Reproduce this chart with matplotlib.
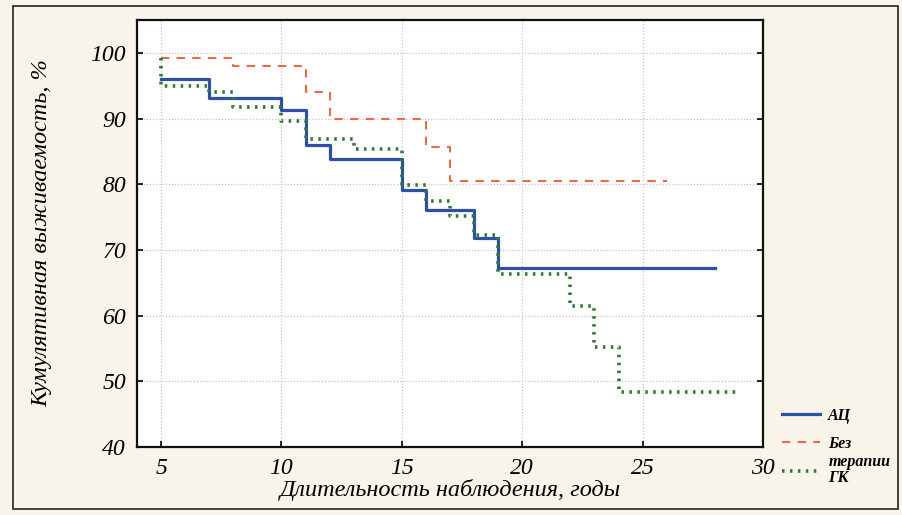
import matplotlib.pyplot as plt
from matplotlib.patches import Rectangle

# Kaplan-Meier style curves (years, cumulative survival %)
ac_x = [5, 7, 10, 11, 12, 15, 16, 18, 19, 28]
ac_y = [96, 93.1, 91.3, 85.9, 83.8, 79.1, 76.1, 71.8, 67.2, 67.2]

noth_x = [5, 8, 11, 12, 16, 17, 26]
noth_y = [99.2, 98.0, 94.0, 89.9, 85.6, 80.5, 80.5]

gk_x = [5, 5, 7, 8, 10, 11, 13, 15, 16, 17, 18, 19, 22, 23, 24, 29]
gk_y = [99.2, 95.0, 94.0, 91.8, 89.7, 86.9, 85.4, 79.9, 77.5, 75.1, 72.3, 66.3, 61.5, 55.2, 48.4, 48.4]

legend_labels = ['АЦ', 'Без', 'терапии\nГК']
xticks = [5, 10, 15, 20, 25, 30]
yticks = [40, 50, 60, 70, 80, 90, 100]

bg = '#f8f4ea'
serif = 'Liberation Serif'

fig = plt.figure(figsize=(9.03, 5.15), dpi=100, facecolor=bg)
ax = fig.add_axes([137/903, 68/515, 626/903, 427/515], facecolor='white')

l1, = ax.plot(ac_x, ac_y, drawstyle='steps-post', color='#2d4fa6', lw=2.3)
l2, = ax.plot(noth_x, noth_y, drawstyle='steps-post', color='#ea6a43', lw=1.5,
              linestyle=(0, (4, 3.5)))
l3, = ax.plot(gk_x, gk_y, drawstyle='steps-post', color='#2f7a33', lw=2.6,
              linestyle=(0, (0.7, 1.5)))

ax.set_xlim(4, 30)
ax.set_ylim(40, 105)
ax.set_xticks(xticks)
ax.set_yticks(yticks)
ax.grid(True, color='#c4c4c4', linestyle=(0, (1, 1.5)), lw=0.9)
ax.tick_params(direction='in', length=4, width=1.2, right=True, labelsize=17, pad=8)
for lab in ax.get_xticklabels() + ax.get_yticklabels():
    lab.set_fontfamily(serif)
    lab.set_fontstyle('italic')
for s in ax.spines.values():
    s.set_linewidth(1.6)
    s.set_color('#111111')

ax.set_xlabel('Длительность наблюдения, годы', fontsize=17.5, fontfamily=serif,
              fontstyle='italic', labelpad=0)
ax.set_ylabel('Кумулятивная выживаемость, %', fontsize=17.5, fontfamily=serif,
              fontstyle='italic', labelpad=27)

leg_prop = {'family': serif, 'style': 'italic', 'weight': 'bold', 'size': 11.5}
leg_kw = dict(loc='center left', frameon=False, borderpad=0, borderaxespad=0,
              handlelength=2.4, handletextpad=0.5, prop=leg_prop)
fig.legend([l1], legend_labels[:1], bbox_to_anchor=(782/903, 1 - 416/515), **leg_kw)
leg2 = fig.legend([l2, l3], legend_labels[1:], bbox_to_anchor=(782/903, 1 - 461/515),
                  labelspacing=0.15, **leg_kw)
for t in leg2.get_texts():
    t.set_linespacing(1.0)

fig.add_artist(Rectangle((13/903, 6/515), 885/903, 503/515, transform=fig.transFigure,
                         fill=False, edgecolor='#222222', lw=1.2))

fig.savefig('out.png', dpi=100, facecolor=bg)
